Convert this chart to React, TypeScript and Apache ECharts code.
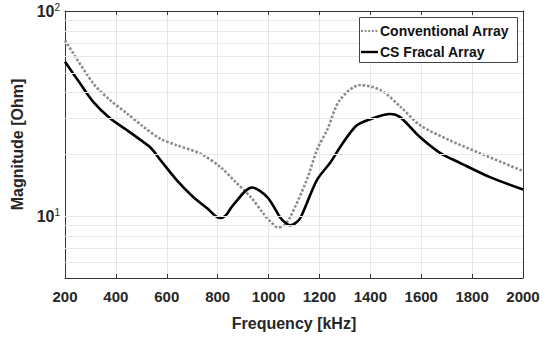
import React, { useEffect, useRef } from "react";
import * as echarts from "echarts";

const convFreq = [200, 311, 377, 443, 508, 573, 639, 731, 810, 870, 930, 980, 1012, 1037, 1060, 1085, 1150, 1190, 1230, 1280, 1360, 1440, 1520, 1595, 1710, 1830, 2000];
const convMag = [72, 44.4, 36.8, 31.7, 27.3, 23.9, 22.2, 20.2, 17.4, 14.7, 12.4, 10.3, 9.3, 8.83, 9.0, 9.9, 15, 21, 26.3, 36.8, 43.6, 41.2, 34, 27.8, 23.5, 20.3, 16.6];

const csFreq = [200, 259, 311, 377, 443, 508, 541, 575, 639, 704, 760, 790, 810, 832, 860, 935, 995, 1045, 1068, 1085, 1103, 1125, 1190, 1242, 1281, 1320, 1348, 1400, 1477, 1517, 1595, 1675, 1752, 1870, 2000];
const csMag = [56.6, 44.4, 36.1, 30.0, 26.3, 23.0, 21.3, 18.8, 15.0, 12.4, 10.9, 10.05, 9.8, 10.1, 11.3, 13.8, 12.4, 9.89, 9.25, 9.04, 9.2, 9.8, 15, 18.2, 21.7, 25.4, 27.8, 29.7, 31.5, 30.4, 24.3, 20.3, 18.2, 15.5, 13.5];

const minorGrid = [6, 7, 8, 9, 10, 20, 30, 40, 50, 60, 70, 80, 90];
const seriesNames = ["Conventional Array", "CS Fracal Array"];

const FONT = "Liberation Sans, Arial, sans-serif";

export default function App() {
  const ref = useRef<HTMLDivElement>(null);
  useEffect(() => {
    const chart = echarts.init(ref.current!, null, { renderer: "svg" });
    const axisLine = { show: true, lineStyle: { color: "#333", width: 1 } };
    const legendText = { fontFamily: FONT, fontWeight: "bold", fontSize: 14, fill: "#111", verticalAlign: "middle", align: "left" };
    chart.setOption({
      animation: false,
      backgroundColor: "#fff",
      grid: { left: 65, top: 11, right: 33, bottom: 63 },
      graphic: [
        { type: "rect", z: 100, zlevel: 1, shape: { x: 359.5, y: 17.5, width: 158, height: 45 }, style: { fill: "#fff", stroke: "#444", lineWidth: 1 } },
        { type: "line", z: 101, zlevel: 1, shape: { x1: 361, y1: 31, x2: 378, y2: 31 }, style: { stroke: "#8c8c8c", lineWidth: 2, lineDash: [2, 1.6] } },
        { type: "line", z: 101, zlevel: 1, shape: { x1: 361, y1: 52, x2: 378, y2: 52 }, style: { stroke: "#000", lineWidth: 2.4 } },
        { type: "text", z: 101, zlevel: 1, x: 380, y: 31, style: { ...legendText, text: seriesNames[0] } },
        { type: "text", z: 101, zlevel: 1, x: 380, y: 52, style: { ...legendText, text: seriesNames[1] } },
      ],
      xAxis: [
        {
          type: "value",
          min: 200,
          max: 2000,
          interval: 200,
          name: "Frequency [kHz]",
          nameLocation: "middle",
          nameGap: 37,
          nameTextStyle: { fontFamily: FONT, fontWeight: "bold", fontSize: 16, color: "#262626" },
          axisLine,
          axisTick: { inside: true, length: 4, lineStyle: { color: "#333" } },
          axisLabel: { margin: 11, fontFamily: FONT, fontWeight: "bold", fontSize: 15, color: "#262626", formatter: (v: number) => String(v) },
          splitLine: { show: true, lineStyle: { color: "#e6e6e6", width: 1 } },
        },
        {
          type: "value",
          position: "top",
          min: 200,
          max: 2000,
          interval: 200,
          axisLine,
          axisTick: { inside: true, length: 4, lineStyle: { color: "#333" } },
          axisLabel: { show: false },
          splitLine: { show: false },
        },
      ],
      yAxis: [
        {
          type: "log",
          logBase: 10,
          min: 5,
          max: 100,
          name: "Magnitude [Ohm]",
          nameLocation: "middle",
          nameGap: 31,
          nameTextStyle: { fontFamily: FONT, fontWeight: "bold", fontSize: 16, color: "#262626" },
          axisLine,
          axisTick: { inside: true, length: 4, lineStyle: { color: "#333" } },
          splitLine: { show: false },
          axisLabel: {
            margin: 5,
            formatter: (v: number) => {
              if (Math.abs(v - 10) < 1e-6) return "{b|10}{s|1}";
              if (Math.abs(v - 100) < 1e-6) return "{b|10}{s|2}";
              return "";
            },
            rich: {
              b: { fontFamily: FONT, fontWeight: "bold", fontSize: 16, color: "#262626" },
              s: { fontFamily: FONT, fontSize: 10, color: "#262626", verticalAlign: "top", padding: [0, 0, 8, 0] },
            },
          },
        },
        {
          type: "log",
          logBase: 10,
          position: "right",
          min: 5,
          max: 100,
          axisLine,
          axisTick: { inside: true, length: 4, lineStyle: { color: "#333" } },
          axisLabel: { show: false },
          splitLine: { show: false },
        },
      ],
      series: [
        {
          name: "grid",
          type: "line",
          data: [],
          z: 0,
          silent: true,
          markLine: {
            silent: true,
            symbol: "none",
            label: { show: false },
            lineStyle: { color: "#e8e8e8", width: 1, type: "solid" },
            data: minorGrid.map((v) => ({ yAxis: v })),
          },
        },
        {
          name: seriesNames[0],
          type: "line",
          data: convFreq.map((f, i) => [f, convMag[i]]),
          smooth: 0.3,
          symbol: "none",
          color: "#8c8c8c",
          lineStyle: { color: "#8c8c8c", width: 2.6, type: [2.6, 1.8] },
          z: 3,
        },
        {
          name: seriesNames[1],
          type: "line",
          data: csFreq.map((f, i) => [f, csMag[i]]),
          smooth: 0.3,
          symbol: "none",
          color: "#000",
          lineStyle: { color: "#000", width: 2.6 },
          z: 4,
        },
      ],
    });
    return () => chart.dispose();
  }, []);
  return <div ref={ref} style={{ width: 556, height: 341, position: "absolute", left: 0, top: 0 }} />;
}
